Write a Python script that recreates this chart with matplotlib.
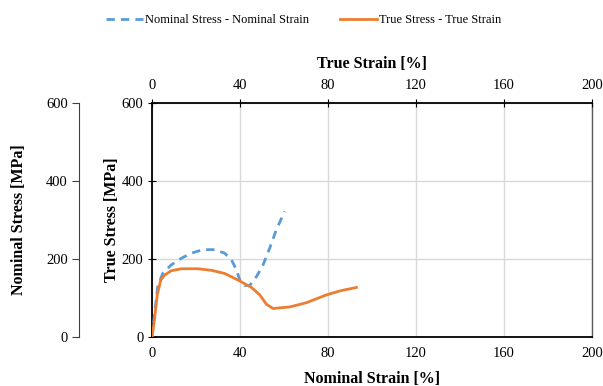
import matplotlib.pyplot as plt

# Nominal stress - nominal strain
nominal_strain = [0, 2.7, 5.0, 8.8, 13.4, 17.9, 23.2, 28.5, 33.0, 36.1, 38.4, 39.9, 42.1, 44.4,
                  47.5, 50.5, 53.5, 56.5, 60.3]
nominal_stress = [0, 133, 164, 185, 202, 215, 224, 224, 215, 198, 172, 146, 132, 132,
                  155, 185, 228, 275, 322]

# True stress - true strain
true_strain = [0, 1.2, 2.4, 4.0, 5.8, 8.8, 13.4, 20.9, 27.0, 33.0, 39.1, 45.2, 49.0, 52.0,
               55.0, 62.6, 70.2, 79.3, 86.0, 92.9]
true_stress = [0, 47, 108, 146, 159, 170, 175, 175, 171, 163, 146, 127, 108, 84,
               73, 77, 88, 108, 119, 127]

x_ticks = [0, 40, 80, 120, 160, 200]
y_ticks = [0, 200, 400, 600]

plt.rcParams['font.family'] = ['Liberation Serif', 'DejaVu Sans']
plt.rcParams['font.size'] = 10.5

fig = plt.figure(figsize=(6.03, 3.86), dpi=100)
ax = fig.add_axes([0.252, 0.127, 0.730, 0.606])

blue = "#5B9BD5"
orange = "#ED7D31"

ax.plot(nominal_strain, nominal_stress, color=blue, linestyle=(0, (3, 2.2)), linewidth=2.0,
        label="Nominal Stress - Nominal Strain", zorder=3)

ax.set_xlim(0, 200)
ax.set_ylim(0, 600)
ax.set_xticks(x_ticks)
ax.set_yticks(y_ticks)
ax.grid(True, color="#d9d9d9", linewidth=1.0)
ax.set_axisbelow(True)
ax.tick_params(axis="y", direction="inout", length=6, color="black", pad=3)
ax.tick_params(axis="x", length=0, pad=7)
for side in ["left", "bottom", "top"]:
    ax.spines[side].set_color("black")
    ax.spines[side].set_linewidth(1.3)
ax.spines["right"].set_color("#595959")
ax.spines["right"].set_linewidth(1.0)
ax.set_xlabel("Nominal Strain [%]", fontweight="bold", fontsize=11.5, labelpad=8)
ax.set_ylabel("True Stress [MPa]", fontweight="bold", fontsize=11.5, labelpad=1)

# top axis: true strain
ax_top = ax.twiny()
ax_top.plot(true_strain, true_stress, color=orange, linewidth=2.0,
            label="True Stress - True Strain", zorder=3)
ax_top.set_xlim(0, 200)
ax_top.set_xticks(x_ticks)
ax_top.tick_params(axis="x", direction="inout", length=6, color="black", pad=5)
ax_top.set_xlabel("True Strain [%]", fontweight="bold", fontsize=11.5, labelpad=8)
for s in ax_top.spines.values():
    s.set_visible(False)

# outer left axis: nominal stress
ax_out = ax.secondary_yaxis(-0.166)
ax_out.set_yticks(y_ticks)
ax_out.spines["left"].set_color("#404040")
ax_out.tick_params(axis="y", direction="out", length=5, color="#404040", pad=3)
ax_out.set_ylabel("Nominal Stress [MPa]", fontweight="bold", fontsize=11.5, labelpad=14)

h1, l1 = ax.get_legend_handles_labels()
h2, l2 = ax_top.get_legend_handles_labels()
fig.legend(h1 + h2, l1 + l2, loc="center", bbox_to_anchor=(0.503, 0.948), ncol=2,
           frameon=False, fontsize=9.0, handlelength=3.0, handletextpad=0.1,
           columnspacing=2.5)

fig.savefig("out.png", dpi=100)
